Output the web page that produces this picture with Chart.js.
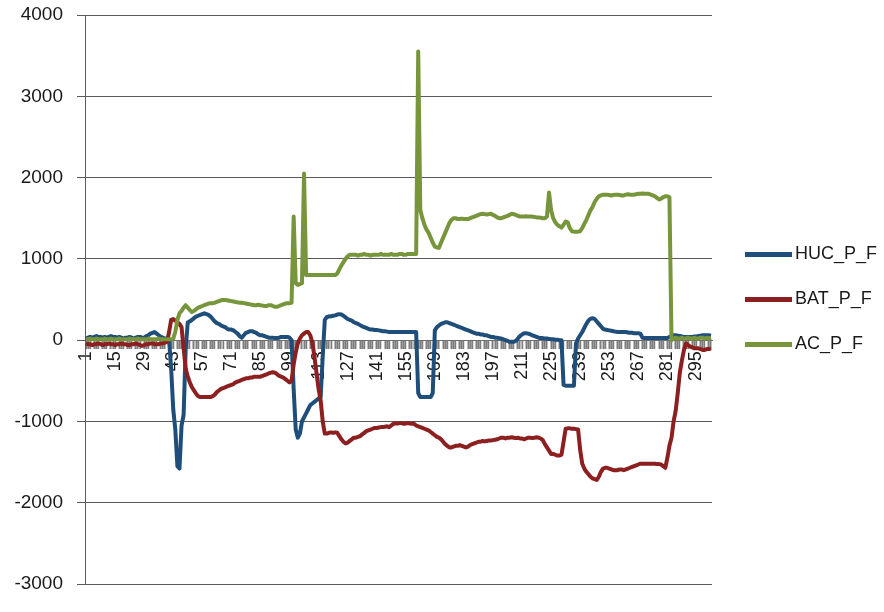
<!DOCTYPE html>
<html>
<head>
<meta charset="utf-8">
<script src="https://cdn.jsdelivr.net/npm/chart.js@4/dist/chart.umd.min.js"></script>
<style>
html,body{margin:0;padding:0;background:#ffffff;}
#c{display:block;}
</style>
</head>
<body>
<canvas id="c" width="884" height="612"></canvas>
<script>
// ---- data ----
const categoryCount = 302;
const categories = Array.from({length: categoryCount}, (_, i) => String(i + 1));
const seriesNames = ['HUC_P_F', 'BAT_P_F', 'AC_P_F'];
const seriesColors = ['#1f4e7a', '#8c1f1f', '#77953a'];
const yTicks = [-3000, -2000, -1000, 0, 1000, 2000, 3000, 4000];

const hucValues = [
  20,30,40,30,40,50,40,40,30,40,
  30,40,50,40,40,30,40,30,20,30,
  30,40,30,20,30,40,40,30,30,50,
  60,80,90,100,80,60,40,30,20,20,
  0,-350,-850,-1100,-1550,-1580,-1050,-920,-100,220,
  230,250,270,290,300,310,320,330,320,310,
  290,260,230,210,200,180,170,160,140,130,
  130,120,100,80,50,30,60,90,100,110,
  110,100,90,70,60,60,50,40,30,30,
  30,25,25,30,40,40,40,40,30,0,
  -600,-1100,-1200,-1150,-1000,-950,-900,-850,-800,-780,
  -760,-740,-720,-700,-200,250,285,290,295,300,
  305,315,320,315,300,280,260,250,240,220,
  210,200,185,170,160,150,140,130,130,125,
  125,120,115,110,110,105,100,100,100,100,
  100,100,100,100,100,100,100,100,100,100,
  -650,-700,-700,-700,-700,-700,-700,-650,120,160,
  180,200,210,220,220,210,200,190,180,170,
  160,150,140,130,120,110,100,90,80,80,
  70,70,60,60,50,40,40,30,30,25,
  20,10,0,-10,-20,-20,-20,-10,20,50,
  70,85,85,80,70,60,50,40,30,25,
  25,20,20,15,10,10,5,5,0,0,
  -550,-560,-560,-560,-560,-560,-40,20,60,100,
  150,200,240,265,270,260,230,200,170,140,
  130,125,120,115,110,105,100,100,100,100,
  100,95,90,90,85,85,85,80,30,25,
  25,25,25,25,25,25,25,25,25,25,
  25,40,50,60,60,55,50,45,40,40,
  40,40,40,45,45,50,55,60,60,60,
  60,55
];

const batValues = [
  -40,-50,-50,-60,-50,-50,-40,-50,-60,-50,
  -50,-40,-50,-50,-60,-50,-50,-40,-50,-50,
  -60,-60,-50,-50,-40,-50,-60,-70,-60,-50,
  -50,-40,-40,-50,-50,-50,-40,-40,-30,-20,
  100,250,260,240,220,200,160,-100,-350,-450,
  -520,-580,-620,-660,-690,-700,-700,-700,-700,-700,
  -700,-690,-670,-640,-620,-600,-590,-580,-570,-560,
  -550,-540,-520,-510,-500,-490,-480,-470,-470,-460,
  -460,-450,-450,-450,-450,-440,-430,-420,-410,-400,
  -395,-400,-420,-440,-450,-460,-480,-500,-520,-500,
  -300,-150,-40,20,60,80,100,100,60,-30,
  -200,-400,-600,-740,-1000,-1150,-1150,-1140,-1135,-1140,
  -1135,-1140,-1180,-1220,-1250,-1270,-1260,-1240,-1220,-1200,
  -1200,-1190,-1180,-1160,-1140,-1120,-1110,-1100,-1090,-1080,
  -1080,-1075,-1070,-1070,-1065,-1060,-1070,-1050,-1030,-1025,
  -1025,-1020,-1020,-1030,-1025,-1020,-1025,-1030,-1030,-1050,
  -1060,-1070,-1080,-1090,-1100,-1110,-1130,-1150,-1170,-1190,
  -1200,-1220,-1250,-1280,-1300,-1320,-1320,-1310,-1300,-1300,
  -1290,-1300,-1310,-1320,-1310,-1290,-1280,-1270,-1260,-1250,
  -1250,-1240,-1245,-1240,-1235,-1235,-1230,-1225,-1220,-1210,
  -1200,-1200,-1210,-1200,-1200,-1195,-1200,-1205,-1200,-1210,
  -1210,-1220,-1210,-1200,-1200,-1205,-1200,-1195,-1200,-1210,
  -1230,-1280,-1320,-1360,-1400,-1400,-1410,-1420,-1420,-1410,
  -1250,-1090,-1085,-1085,-1090,-1090,-1095,-1100,-1350,-1520,
  -1580,-1620,-1650,-1680,-1700,-1710,-1720,-1680,-1620,-1580,
  -1570,-1570,-1580,-1590,-1600,-1600,-1600,-1590,-1590,-1600,
  -1590,-1580,-1570,-1560,-1550,-1540,-1530,-1520,-1520,-1520,
  -1520,-1520,-1520,-1520,-1520,-1525,-1525,-1530,-1550,-1570,
  -1450,-1300,-1200,-1000,-870,-650,-400,-250,-120,-40,
  -60,-80,-90,-100,-100,-100,-110,-120,-120,-110,
  -110,-100
];

const acValues = [
  10,10,20,10,10,20,10,10,10,20,
  10,10,20,10,10,10,20,10,10,10,
  10,20,10,10,10,20,10,10,10,10,
  20,10,10,10,10,20,10,10,10,10,
  10,10,20,100,250,330,360,400,430,400,
  370,345,360,380,400,410,420,430,440,450,
  455,455,460,470,480,490,495,495,490,485,
  480,475,470,465,460,460,455,450,445,440,
  435,430,430,435,430,425,420,420,430,430,
  420,410,410,420,430,440,450,455,455,460,
  1520,700,680,690,700,2050,800,800,800,800,
  800,800,800,800,800,800,800,800,800,800,
  800,820,870,920,960,1000,1030,1050,1050,1050,
  1050,1040,1050,1050,1060,1050,1050,1040,1050,1050,
  1050,1050,1060,1050,1050,1050,1050,1060,1050,1050,
  1050,1060,1060,1050,1050,1060,1060,1060,1060,1060,
  3550,1600,1500,1420,1360,1320,1260,1200,1150,1140,
  1135,1200,1260,1320,1380,1440,1480,1500,1500,1490,
  1490,1495,1490,1490,1490,1500,1510,1520,1530,1540,
  1550,1555,1550,1545,1550,1555,1540,1530,1510,1500,
  1500,1510,1520,1530,1540,1555,1550,1540,1530,1520,
  1520,1520,1525,1520,1520,1520,1515,1510,1510,1505,
  1500,1500,1520,1815,1600,1500,1450,1420,1400,1385,
  1420,1460,1450,1380,1340,1335,1335,1335,1340,1380,
  1430,1480,1540,1600,1640,1700,1740,1770,1780,1790,
  1790,1790,1785,1780,1785,1790,1790,1785,1780,1780,
  1790,1795,1790,1790,1790,1795,1800,1800,1805,1800,
  1800,1800,1790,1780,1770,1750,1730,1740,1760,1770,
  1770,1760,0,20,30,20,20,30,20,20,
  30,20,20,30,20,20,30,30,20,30,
  20,30
];

// ---- legend line marker (canvas image) ----
function legendLine(color) {
  const cv = document.createElement('canvas');
  cv.width = 59; cv.height = 5;
  const g = cv.getContext('2d');
  g.fillStyle = color;
  g.fillRect(12, 0, 47, 5);
  return cv;
}

const seriesValues = [hucValues, batValues, acValues];
const drawOrder = [2, 1, 0];

const datasets = seriesNames.map((name, i) => ({
  label: name,
  data: seriesValues[i],
  borderColor: seriesColors[i],
  backgroundColor: seriesColors[i],
  borderWidth: 4,
  pointRadius: 0,
  pointHoverRadius: 0,
  tension: 0,
  fill: false,
  borderJoinStyle: 'round',
  order: drawOrder[i]
}));

const FONT = "'Liberation Sans', Arial, sans-serif";

new Chart(document.getElementById('c'), {
  type: 'line',
  data: { labels: categories, datasets: datasets },
  options: {
    responsive: false,
    animation: false,
    devicePixelRatio: 1,
    layout: { padding: { left: 0, top: 15, right: 0, bottom: 28 } },
    plugins: {
      tooltip: { enabled: false },
      legend: {
        position: 'right',
        align: 'center',
        maxWidth: 172,
        labels: {
          usePointStyle: true,
          pointStyleWidth: 47,
          padding: 27,
          color: '#1a1a1a',
          font: { family: FONT, size: 18 },
          sort: (a, b) => a.datasetIndex - b.datasetIndex,
          generateLabels: (chart) => {
            const items = Chart.defaults.plugins.legend.labels.generateLabels(chart);
            items.forEach(it => { it.pointStyle = legendLine(seriesColors[it.datasetIndex]); });
            return items;
          }
        }
      }
    },
    scales: {
      x: {
        type: 'category',
        offset: true,
        position: { y: 0 },
        grid: {
          display: true,
          drawOnChartArea: false,
          drawTicks: true,
          tickLength: 8,
          tickWidth: 2,
          tickColor: (ctx) => (ctx.index % 4 === 3 ? '#ffffff' : '#7d7d7d')
        },
        border: { display: true, color: '#6e6e6e', width: 1 },
        ticks: {
          autoSkip: false,
          minRotation: 90,
          maxRotation: 90,
          padding: 3,
          color: '#1a1a1a',
          font: { family: FONT, size: 18 },
          callback: function (val, index) {
            return index % 14 === 0 ? this.getLabelForValue(val) : '';
          }
        },
        afterFit: (s) => { s.paddingLeft = 0; s.paddingRight = 0; s.paddingTop = 0; s.paddingBottom = 0; }
      },
      y: {
        min: yTicks[0],
        max: yTicks[yTicks.length - 1],
        afterBuildTicks: (s) => { s.ticks = yTicks.map(v => ({ value: v })); },
        grid: {
          color: '#5a5a5a',
          lineWidth: 1,
          tickLength: 8,
          tickColor: '#5a5a5a'
        },
        border: { display: true, color: '#5a5a5a', width: 1 },
        ticks: {
          padding: 14,
          color: '#1a1a1a',
          font: { family: FONT, size: 19 },
          callback: (v) => String(v)
        },
        afterFit: (s) => { s.width = 85; s.paddingTop = 0; s.paddingBottom = 0; s.paddingLeft = 0; s.paddingRight = 0; }
      }
    }
  }
});
</script>
</body>
</html>
